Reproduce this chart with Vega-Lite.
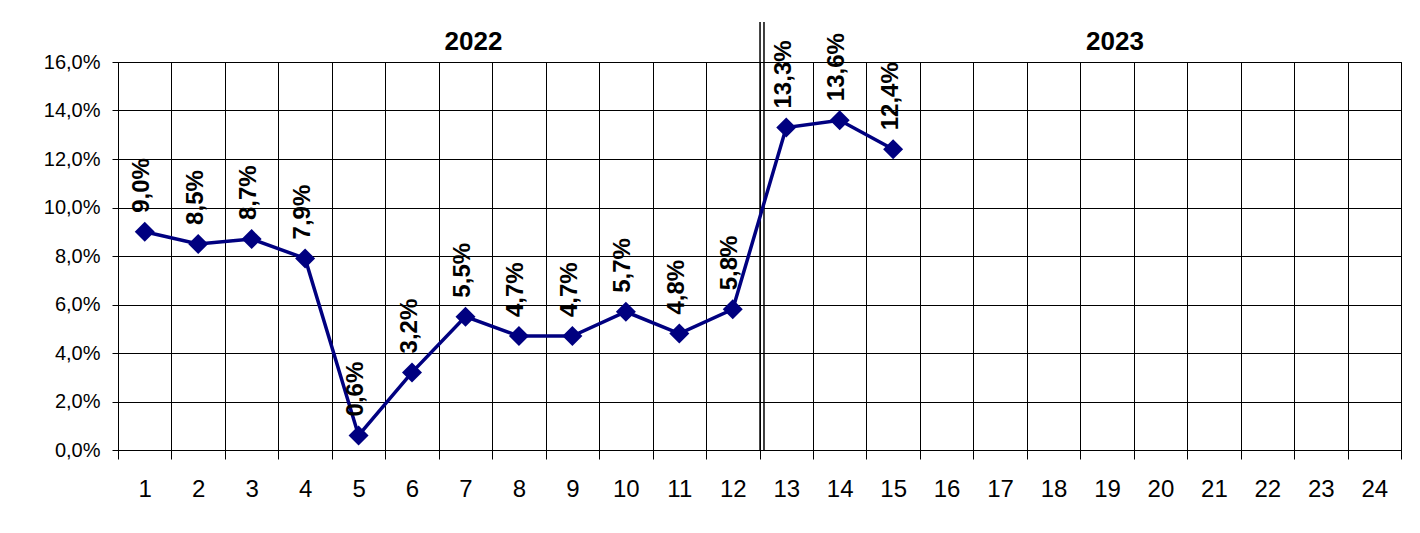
{
  "$schema": "https://vega.github.io/schema/vega-lite/v6.json",
  "width": 1283,
  "height": 388,
  "autosize": "none",
  "padding": {"left": 118, "top": 62, "right": 19, "bottom": 83},
  "background": "white",
  "config": {
    "locale": {"number": {"decimal": ",", "thousands": " ", "grouping": [3], "currency": ["", ""]}},
    "view": {"stroke": "black", "strokeWidth": 1},
    "font": "Liberation Sans"
  },
  "datasets": {
    "series": [
      {"month": "1", "value": 0.090},
      {"month": "2", "value": 0.085},
      {"month": "3", "value": 0.087},
      {"month": "4", "value": 0.079},
      {"month": "5", "value": 0.006},
      {"month": "6", "value": 0.032},
      {"month": "7", "value": 0.055},
      {"month": "8", "value": 0.047},
      {"month": "9", "value": 0.047},
      {"month": "10", "value": 0.057},
      {"month": "11", "value": 0.048},
      {"month": "12", "value": 0.058},
      {"month": "13", "value": 0.133},
      {"month": "14", "value": 0.136},
      {"month": "15", "value": 0.124}
    ],
    "years": [
      {"month": "7", "year": "2022", "y": 0.16},
      {"month": "19", "year": "2023", "y": 0.16}
    ],
    "divider": [
      {"month": "13", "lo": 0, "hi": 0.1765}
    ]
  },
  "layer": [
    {
      "data": {"name": "divider"},
      "mark": {"type": "rule", "color": "black", "strokeWidth": 1.5},
      "encoding": {
        "x": {
          "field": "month", "type": "ordinal", "bandPosition": 0.01,
          "scale": {"type": "band", "domain": ["1","2","3","4","5","6","7","8","9","10","11","12","13","14","15","16","17","18","19","20","21","22","23","24"], "paddingInner": 0, "paddingOuter": 0},
          "axis": {
            "title": null, "tickBand": "extent", "labelAngle": 0, "labelFontSize": 24, "labelColor": "black",
            "tickSize": 9, "tickColor": "black", "labelPadding": 18, "grid": true, "gridColor": "black", "gridOpacity": 1,
            "domainColor": "black", "labelFont": "Liberation Sans"
          }
        },
        "y": {
          "field": "lo", "type": "quantitative",
          "scale": {"domain": [0, 0.16], "nice": false, "zero": true},
          "axis": {
            "title": null, "values": [0, 0.02, 0.04, 0.06, 0.08, 0.1, 0.12, 0.14, 0.16], "format": ".1%",
            "labelFontSize": 20, "labelColor": "black", "tickColor": "black", "tickSize": 6, "labelPadding": 12,
            "domainColor": "black", "gridColor": "black", "gridOpacity": 1, "grid": true, "labelFont": "Liberation Sans"
          }
        },
        "y2": {"field": "hi"}
      }
    },
    {
      "data": {"name": "divider"},
      "mark": {"type": "rule", "color": "black", "strokeWidth": 1.5},
      "encoding": {
        "x": {"field": "month", "type": "ordinal", "bandPosition": 0.084},
        "y": {"field": "lo", "type": "quantitative"},
        "y2": {"field": "hi"}
      }
    },
    {
      "data": {"name": "series"},
      "mark": {"type": "line", "color": "#000080", "strokeWidth": 3.5},
      "encoding": {
        "x": {"field": "month", "type": "ordinal"},
        "y": {"field": "value", "type": "quantitative"}
      }
    },
    {
      "data": {"name": "series"},
      "mark": {"type": "point", "shape": "diamond", "size": 400, "filled": true, "color": "#000080", "opacity": 1},
      "encoding": {
        "x": {"field": "month", "type": "ordinal"},
        "y": {"field": "value", "type": "quantitative"}
      }
    },
    {
      "data": {"name": "series"},
      "mark": {"type": "text", "angle": 270, "align": "left", "baseline": "middle", "dx": 19, "dy": -2.5, "fontSize": 24, "fontWeight": "bold", "color": "black", "font": "Liberation Sans"},
      "encoding": {
        "x": {"field": "month", "type": "ordinal"},
        "y": {"field": "value", "type": "quantitative"},
        "text": {"field": "value", "type": "quantitative", "format": ".1%"}
      }
    },
    {
      "data": {"name": "years"},
      "mark": {"type": "text", "align": "center", "baseline": "alphabetic", "dx": 8, "dy": -12, "fontSize": 26, "fontWeight": "bold", "color": "black", "font": "Liberation Sans"},
      "encoding": {
        "x": {"field": "month", "type": "ordinal"},
        "y": {"field": "y", "type": "quantitative"},
        "text": {"field": "year", "type": "nominal"}
      }
    }
  ]
}
